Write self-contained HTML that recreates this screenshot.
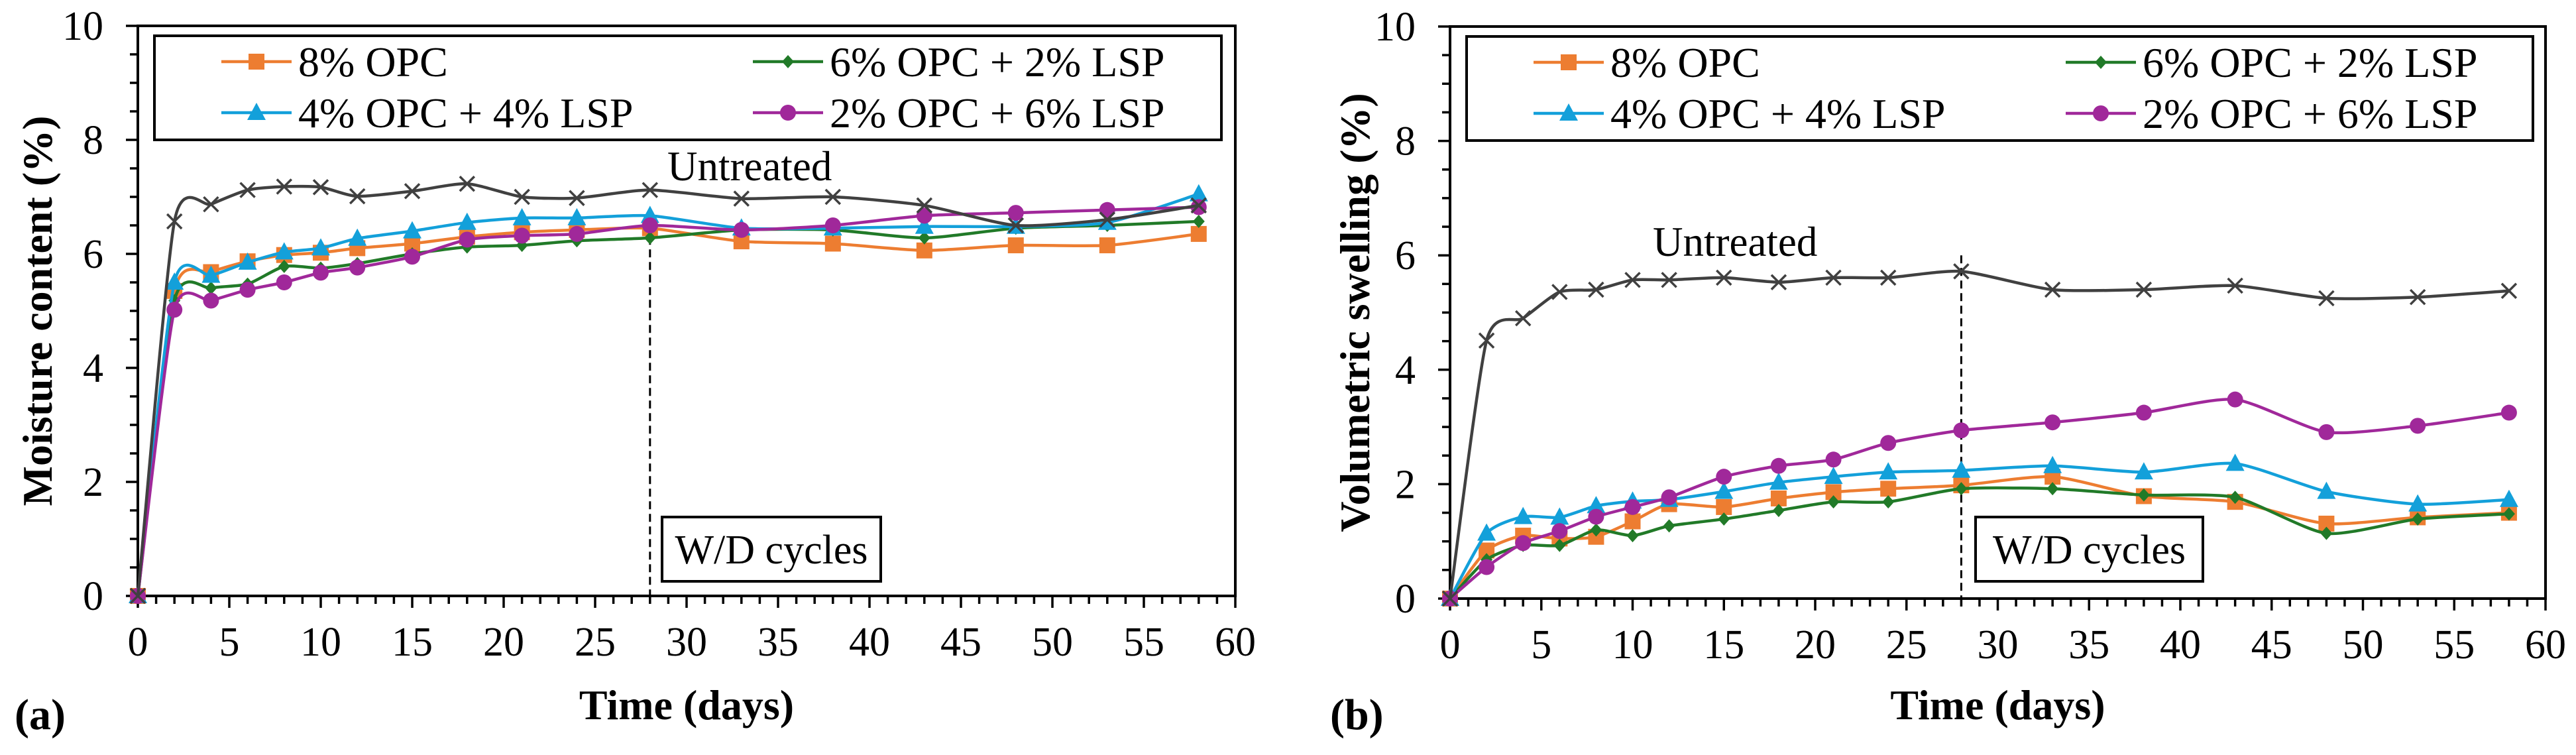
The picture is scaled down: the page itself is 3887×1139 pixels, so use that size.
<!DOCTYPE html>
<html><head><meta charset="utf-8"><style>
html,body{margin:0;padding:0;background:#fff;}
svg{display:block;font-family:"Liberation Serif",serif;}
</style></head><body>
<svg id="fig" width="3887" height="1139" viewBox="0 0 3887 1139" xmlns="http://www.w3.org/2000/svg">
<g id="pa"></g>
<g id="pb"></g>
</svg>
<script>
const days = [0,2,4,6,8,10,12,15,18,21,24,28,33,38,43,48,53,58];
const xTicks = [0,5,10,15,20,25,30,35,40,45,50,55,60];
const yTicks = [0,2,4,6,8,10];
const seriesNames = ["8% OPC","6% OPC + 2% LSP","4% OPC + 4% LSP","2% OPC + 6% LSP","Untreated"];
// Panel (a) moisture content (%)
const aOPC8   = [0,5.35,5.68,5.87,5.98,6.02,6.10,6.18,6.30,6.38,6.42,6.45,6.22,6.18,6.06,6.15,6.15,6.35];
const aOPC6   = [0,5.18,5.40,5.47,5.78,5.75,5.83,6.00,6.12,6.15,6.23,6.28,6.42,6.42,6.28,6.45,6.50,6.57];
const aOPC4   = [0,5.50,5.62,5.85,6.03,6.10,6.27,6.40,6.55,6.63,6.63,6.67,6.45,6.45,6.48,6.48,6.55,7.05];
const aOPC2   = [0,5.02,5.18,5.37,5.50,5.67,5.76,5.95,6.25,6.32,6.35,6.50,6.42,6.50,6.67,6.72,6.77,6.82];
const aUntr   = [0,6.57,6.87,7.12,7.18,7.17,7.01,7.10,7.23,7.00,6.98,7.12,6.97,7.00,6.85,6.50,6.60,6.85];
// Panel (b) volumetric swelling (%)
const bOPC8   = [0,0.84,1.10,1.05,1.08,1.35,1.65,1.60,1.75,1.86,1.92,1.98,2.13,1.79,1.69,1.31,1.42,1.50];
const bOPC6   = [0,0.68,0.93,0.93,1.20,1.10,1.27,1.39,1.54,1.69,1.69,1.92,1.92,1.81,1.77,1.14,1.39,1.48];
const bOPC4   = [0,1.14,1.43,1.42,1.62,1.70,1.73,1.87,2.03,2.13,2.21,2.24,2.32,2.21,2.36,1.87,1.65,1.73];
const bOPC2   = [0,0.55,0.97,1.18,1.43,1.60,1.77,2.13,2.32,2.43,2.72,2.94,3.08,3.25,3.48,2.91,3.02,3.25];
const bUntr   = [0,4.51,4.90,5.36,5.40,5.57,5.57,5.61,5.53,5.61,5.61,5.72,5.40,5.40,5.47,5.25,5.27,5.38];

const NS="http://www.w3.org/2000/svg";
const COLORS=["#ED7D31","#217A28","#13A0DA","#A0289A","#404040"];
const MARKERS=["square","diamond","triangle","circle","x"];

function mk(parent,tag,attrs){const e=document.createElementNS(NS,tag);for(const k in attrs)e.setAttribute(k,attrs[k]);parent.appendChild(e);return e;}

function smoothPath(pts){
  let d="M"+pts[0][0]+","+pts[0][1];
  for(let i=0;i<pts.length-1;i++){
    const p0=pts[Math.max(0,i-1)],p1=pts[i],p2=pts[i+1],p3=pts[Math.min(pts.length-1,i+2)];
    const t=1/9;
    const c1=[p1[0]+(p2[0]-p0[0])*t,p1[1]+(p2[1]-p0[1])*t];
    const c2=[p2[0]-(p3[0]-p1[0])*t,p2[1]-(p3[1]-p1[1])*t];
    d+=" C"+c1[0]+","+c1[1]+" "+c2[0]+","+c2[1]+" "+p2[0]+","+p2[1];
  }
  return d;
}

function marker(g,type,x,y,color){
  let e;
  if(type==="square"){e=mk(g,"rect",{x:x-12,y:y-12,width:24,height:24,fill:color});}
  else if(type==="diamond"){e=mk(g,"polygon",{points:`${x},${y-10} ${x+9},${y} ${x},${y+10} ${x-9},${y}`,fill:color});}
  else if(type==="triangle"){e=mk(g,"polygon",{points:`${x},${y-15} ${x+14},${y+11} ${x-14},${y+11}`,fill:color});}
  else if(type==="circle"){e=mk(g,"circle",{cx:x,cy:y,r:12,fill:color});}
  else {e=mk(g,"path",{d:`M${x-11},${y-11}L${x+11},${y+11}M${x+11},${y-11}L${x-11},${y+11}`,stroke:color,"stroke-width":3.5,fill:"none"});}
  return e;
}

function panel(g,cfg){
  const L=cfg.left,R=cfg.right,T=cfg.top,B=cfg.bottom;
  const xs=v=>L+(v-0)/60*(R-L);
  const ys=v=>B-(v/10)*(B-T);
  const fr=mk(g,"rect",{x:L,y:T,width:R-L,height:B-T,fill:"none",stroke:"#000","stroke-width":4});
  
  
  for(let v=0;v<=10.001;v+=0.5){
    const maj=Math.abs(v-Math.round(v/2)*2)<1e-6;
    const t=mk(g,"line",{x1:L-(maj?18:12),x2:L,y1:ys(v),y2:ys(v),stroke:"#000","stroke-width":3.5});
    
    
  }
  yTicks.forEach(v=>{
    const t=mk(g,"text",{x:L-52,y:ys(v)+21,"text-anchor":"end","font-size":62,fill:"#000"});
    t.textContent=v;
    
    
  });
  for(let v=0;v<=60;v++){
    const maj=v%5===0;
    const t=mk(g,"line",{x1:xs(v),x2:xs(v),y1:B,y2:B+(maj?18:12),stroke:"#000","stroke-width":3.5});
    
    
  }
  xTicks.forEach(v=>{
    const t=mk(g,"text",{x:xs(v),y:B+90,"text-anchor":"middle","font-size":62,fill:"#000"});
    t.textContent=v;
    
    
  });
  const lg=mk(g,"g",{});
  
  
  mk(lg,"rect",{x:cfg.legL,y:T+15,width:cfg.legR-cfg.legL,height:157,fill:"#fff",stroke:"#000","stroke-width":4});
  const cols=[cfg.c1,cfg.c2];
  const rowsY=[T+54,T+131];
  const order=[[0,0,0],[1,1,0],[2,0,1],[3,1,1]];
  order.forEach(([si,c,r])=>{
    const x0=cols[c],y=rowsY[r];
    const e=mk(lg,"g",{});
    
    
    mk(e,"line",{x1:x0,x2:x0+106,y1:y,y2:y,stroke:COLORS[si],"stroke-width":4.5});
    marker(e,MARKERS[si],x0+53,y,COLORS[si]);
    const t=mk(e,"text",{x:x0+116,y:y+22,"font-size":64,fill:"#000"});
    t.textContent=seriesNames[si];
  });
  const dl=mk(g,"line",{x1:xs(28),x2:xs(28),y1:ys(cfg.dashTop),y2:B,stroke:"#000","stroke-width":3,"stroke-dasharray":"12,7"});
  
  
  cfg.data.forEach((arr,si)=>{
    const sg=mk(g,"g",{});
    
    
    const pts=arr.map((v,i)=>[xs(days[i]),ys(v)]);
    mk(sg,"path",{d:smoothPath(pts),fill:"none",stroke:COLORS[si],"stroke-width":4.5});
    pts.forEach(p=>{
      const m=marker(sg,MARKERS[si],p[0],p[1],COLORS[si]);
      
      
    });
  });
  const ut=mk(g,"text",{x:cfg.utX,y:cfg.utY,"font-size":63,fill:"#000"});
  ut.textContent="Untreated";
  
  
  const wb=mk(g,"g",{});
  
  
  mk(wb,"rect",{x:cfg.wdL,y:780,width:cfg.wdW,height:97,fill:"#fff",stroke:"#000","stroke-width":4});
  const wt=mk(wb,"text",{x:cfg.wdL+cfg.wdW/2,y:850,"text-anchor":"middle","font-size":62,fill:"#000"});
  wt.textContent="W/D cycles";
  const yt=mk(g,"text",{x:0,y:0,"font-size":64,"font-weight":"bold","text-anchor":"middle",transform:`translate(${cfg.ytX},${(T+B)/2}) rotate(-90)`,fill:"#000"});
  yt.textContent=cfg.ytitle;
  
  
  const xt=mk(g,"text",{x:(L+R)/2,y:1085,"font-size":64,"font-weight":"bold","text-anchor":"middle",fill:"#000"});
  xt.textContent="Time (days)";
  
  
  const pl=mk(g,"text",{x:cfg.plX,y:1100,"font-size":66,"font-weight":"bold",fill:"#000"});
  pl.textContent=cfg.plabel;
  
  
}

panel(document.getElementById("pa"),{left:208,right:1864,top:39,bottom:899,legL:233,legR:1843,c1:334,c2:1136,
  data:[aOPC8,aOPC6,aOPC4,aOPC2,aUntr],dashTop:6.3,utX:1007,utY:272,wdL:999,wdW:330,
  ytitle:"Moisture content (%)",ytX:78,plabel:"(a)",plX:22});
panel(document.getElementById("pb"),{left:2188,right:3841,top:40,bottom:903,legL:2213,legR:3822,c1:2314,c2:3117,
  data:[bOPC8,bOPC6,bOPC4,bOPC2,bUntr],dashTop:6.0,utX:2494,utY:386,wdL:2981,wdW:343,
  ytitle:"Volumetric swelling (%)",ytX:2066,plabel:"(b)",plX:2007});
</script>
</body></html>
